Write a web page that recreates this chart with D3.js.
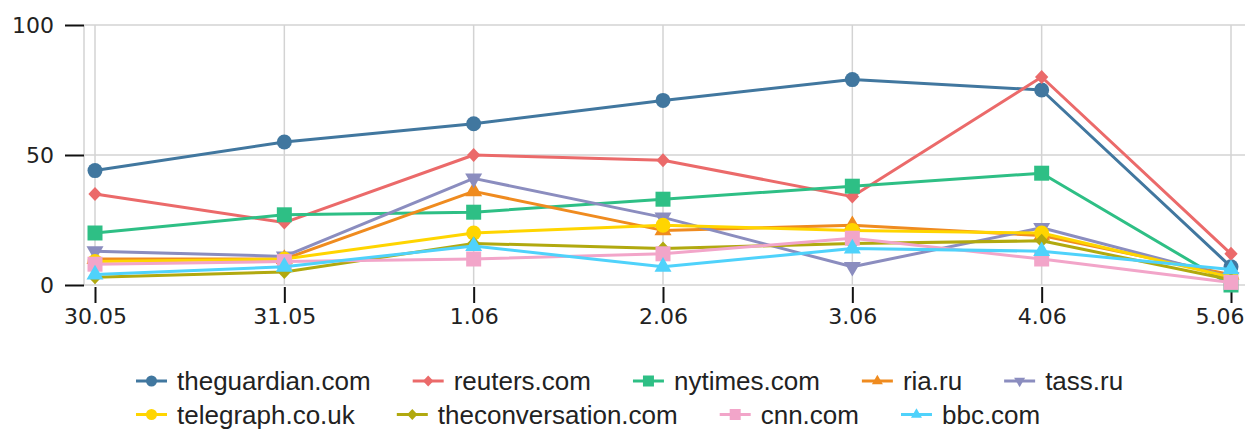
<!DOCTYPE html>
<html>
<head>
<meta charset="utf-8">
<script src="https://cdn.jsdelivr.net/npm/d3@7"></script>
<style>
  html, body { margin: 0; padding: 0; background: #fff; }
  svg { display: block; }
  text { fill: #222; }
</style>
</head>
<body>
<svg id="chart" width="1247" height="430"></svg>
<script>
// ---- data ----
const categories = ["30.05", "31.05", "1.06", "2.06", "3.06", "4.06", "5.06"];
const seriesNames = ["theguardian.com", "reuters.com", "nytimes.com", "ria.ru", "tass.ru",
                     "telegraph.co.uk", "theconversation.com", "cnn.com", "bbc.com"];
const theguardian     = [44, 55, 62, 71, 79, 75, 7];
const reuters         = [35, 24, 50, 48, 34, 80, 12];
const nytimes         = [20, 27, 28, 33, 38, 43, 0];
const ria             = [10, 10, 36, 21, 23, 19, 4];
const tass            = [13, 11, 41, 26, 7, 22, 3];
const telegraph       = [9, 10, 20, 23, 21, 20, 3];
const theconversation = [3, 5, 16, 14, 16, 17, 2];
const cnn             = [8, 9, 10, 12, 18, 10, 1];
const bbc             = [4, 7, 15, 7, 14, 13, 6];
const yTicks = [0, 50, 100];

const seriesValues = [theguardian, reuters, nytimes, ria, tass, telegraph, theconversation, cnn, bbc];
const colors = ["#41779f", "#eb6a6a", "#2ebf85", "#ef8b1f", "#8b8dbf", "#ffd500", "#b1a90f", "#f2a5c9", "#4fd2fb"];
const shapes = ["circle", "diamond", "square", "triUp", "triDown", "circle", "diamond", "square", "triUp"];

// ---- layout ----
const svg = d3.select("#chart");
const plotLeft = 84, plotRight = 1245, plotTop = 25, plotBottom = 285;
const x = d3.scalePoint().domain(categories).range([95, 1231]);
const y = d3.scaleLinear().domain([0, 100]).range([plotBottom, plotTop]);

function symbolPath(shape, s) {
  switch (shape) {
    case "circle": return d3.symbol(d3.symbolCircle, Math.PI * s * s)();
    case "square": return `M${-s},${-s}H${s}V${s}H${-s}Z`;
    case "diamond": return `M0,${-s}L${s * 0.95},0L0,${s}L${-s * 0.95},0Z`;
    case "triUp":
    case "triDown": return d3.symbol(d3.symbolTriangle, (2 * s) * (2 * s) * Math.sqrt(3) / 4)();
  }
}
const markerHalf = { circle: 7.5, square: 7.5, diamond: 7, triUp: 8.5, triDown: 8.5 };

// grid
const grid = svg.append("g");
grid.selectAll("line.h").data(yTicks).join("line")
  .attr("x1", plotLeft).attr("x2", plotRight)
  .attr("y1", d => y(d)).attr("y2", d => y(d))
  .attr("stroke", "#d3d3d3").attr("stroke-width", 1.5);
grid.selectAll("line.v").data(categories).join("line")
  .attr("x1", d => x(d)).attr("x2", d => x(d))
  .attr("y1", plotTop).attr("y2", plotBottom)
  .attr("stroke", "#d3d3d3").attr("stroke-width", 1.5);
grid.append("line")
  .attr("x1", plotLeft).attr("x2", plotLeft)
  .attr("y1", plotTop).attr("y2", plotBottom)
  .attr("stroke", "#d3d3d3").attr("stroke-width", 1.5);

// axes
const yAxis = d3.axisLeft(y).tickValues(yTicks).tickSize(19).tickPadding(11);
const gy = svg.append("g").attr("transform", `translate(${plotLeft},0)`).call(yAxis);
gy.select(".domain").remove();
gy.selectAll(".tick line").attr("stroke", "#111").attr("stroke-width", 2);
gy.selectAll(".tick text").style("font-family", "'DejaVu Sans', sans-serif").style("font-size", "22px").style("fill", "#222");

const xAxis = d3.axisBottom(x).tickSize(16).tickPadding(5);
const gx = svg.append("g").attr("transform", `translate(0,${plotBottom + 2})`).call(xAxis);
gx.select(".domain").remove();
gx.selectAll(".tick line").attr("stroke", "#111").attr("stroke-width", 2);
gx.selectAll(".tick text").style("font-family", "'DejaVu Sans', sans-serif").style("font-size", "22px").style("fill", "#222");
// keep the last label inside the chart
gx.selectAll(".tick text").filter(d => d === categories[categories.length - 1])
  .attr("text-anchor", "end").attr("x", 1244 - x(categories[categories.length - 1]));

// series
const line = d3.line().x((d, i) => x(categories[i])).y(d => y(d));
const series = seriesNames.map((name, k) => ({ name, values: seriesValues[k], color: colors[k], shape: shapes[k] }));

const gSeries = svg.append("g");
series.forEach(s => {
  const g = gSeries.append("g");
  g.append("path").datum(s.values).attr("d", line)
    .attr("fill", "none").attr("stroke", s.color).attr("stroke-width", 3)
    .attr("stroke-linejoin", "round");
  g.selectAll("path.m").data(s.values).join("path")
    .attr("class", "m")
    .attr("d", symbolPath(s.shape, markerHalf[s.shape]))
    .attr("transform", (d, i) => `translate(${x(categories[i])},${y(d)})` + (s.shape === "triDown" ? " rotate(180)" : ""))
    .attr("fill", s.color);
});

// legend
const legend = svg.append("g");
const rows = [series.slice(0, 5), series.slice(5)];
const rowY = [381, 414.5];
const legendLeft = 136, gap = 42;
rows.forEach((row, r) => {
  let cx = legendLeft;
  row.forEach(s => {
    const g = legend.append("g").attr("transform", `translate(${cx},${rowY[r]})`);
    g.append("line").attr("x1", 0).attr("x2", 31).attr("y1", 0).attr("y2", 0)
      .attr("stroke", s.color).attr("stroke-width", 3);
    g.append("path").attr("d", symbolPath(s.shape, 5.5))
      .attr("transform", "translate(15.5,0)" + (s.shape === "triDown" ? " rotate(180)" : ""))
      .attr("fill", s.color);
    const t = g.append("text").attr("x", 41).attr("y", 0).attr("dy", "0.35em")
      .style("font-family", "'Liberation Sans', Arial, sans-serif")
      .style("font-size", "26px").text(s.name);
    cx += 41 + t.node().getComputedTextLength() + gap;
  });
});
</script>
</body>
</html>
